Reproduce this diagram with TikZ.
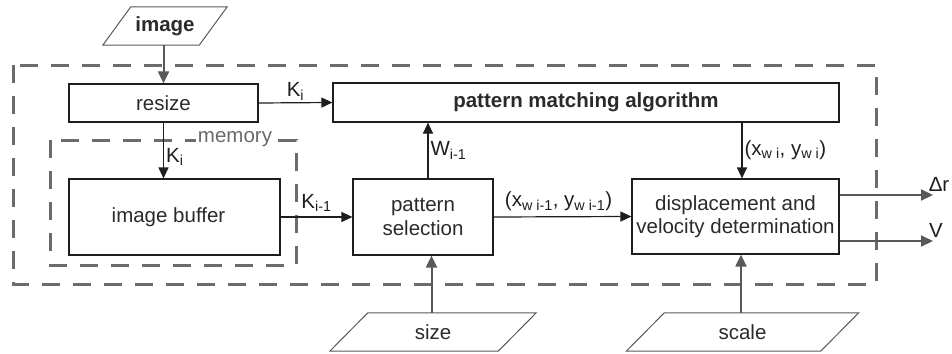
\documentclass[tikz,border=0pt]{standalone}
\usepackage{fontspec}
\setmainfont{Liberation Sans}
\usetikzlibrary{arrows.meta}
\definecolor{boxline}{HTML}{1E1E1E}
\definecolor{txt}{HTML}{2A2A2A}
\definecolor{grayline}{HTML}{595959}
\definecolor{dashgray}{HTML}{6B6B6B}
\begin{document}
\begin{tikzpicture}[x=1pt,y=-1pt,
  font=\fontsize{20.5}{23.5}\selectfont,
  box/.style={draw=boxline, line width=1.2pt, text=txt, align=center, inner sep=0pt},
  paratext/.style={draw=none, text=txt, inner sep=0pt, minimum height=38pt},
  para/.style={draw=grayline, line width=1pt},
  group/.style={draw=dashgray, line width=3pt, dash pattern=on 18pt off 13pt},
  arr/.style={draw=boxline, line width=1.2pt, -{Triangle[length=11pt,width=10pt]}},
  garr/.style={draw=grayline, line width=2pt, -{Triangle[length=12pt,width=11pt]}},
  lbl/.style={text=boxline, inner sep=2pt}]
\useasboundingbox (0,0) rectangle (952,353);

% dashed groupings
\draw[group] (13,65) rectangle (876,284);
\draw[group] (50,140) rectangle (296,265);
\node[text=dashgray, fill=white, inner sep=2pt] (memlabel) at (235,139) {memory};

% processing blocks
\node[box, minimum width=189pt, minimum height=38pt] (resize) at (163.5,103) {resize};
\node[box, minimum width=506pt, minimum height=39pt] (pm) at (586,102.5) {\textbf{pattern matching algorithm}};
\node[box, minimum width=211pt, minimum height=76pt] (buffer) at (174.5,217) {image buffer\hspace{12pt}};
\node[box, minimum width=140pt, minimum height=76pt] (sel) at (423,217) {pattern\\selection};
\node[box, minimum width=207pt, minimum height=75pt] (disp) at (735.5,216.5) {displacement and\\velocity determination};

% inputs (parallelograms)
\node[paratext, minimum width=96pt] (image) at (165,26) {\textbf{image}};
\draw[para] ([xshift=-14pt]image.south west) -- ([xshift=14pt]image.north west)
  -- ([xshift=14pt]image.north east) -- ([xshift=-14pt]image.south east) -- cycle;
\node[paratext, minimum width=168pt] (size) at (433,332) {size};
\draw[para] ([xshift=-19pt]size.south west) -- ([xshift=19pt]size.north west)
  -- ([xshift=19pt]size.north east) -- ([xshift=-19pt]size.south east) -- cycle;
\node[paratext, minimum width=194pt] (scale) at (742.5,332) {scale};
\draw[para] ([xshift=-19pt]scale.south west) -- ([xshift=19pt]scale.north west)
  -- ([xshift=19pt]scale.north east) -- ([xshift=-19pt]scale.south east) -- cycle;

% connectors
\draw[garr] (resize.north |- image.south) -- (resize.north);
\draw[arr] (resize.east) -- (pm.west)
  node[lbl, midway, above] {K\textsubscript{i}};
\draw[arr] (resize.south) -- (resize.south |- buffer.north)
  node[lbl, pos=0.62, right] {K\textsubscript{i}};
\draw[arr] (buffer.east) -- (sel.west)
  node[lbl, midway, above, yshift=3pt] {K\textsubscript{i-1}};
\draw[arr] ([xshift=5pt]sel.north) -- ([xshift=5pt]sel.north |- pm.south)
  node[lbl, midway, right] {W\textsubscript{i-1}};
\draw[arr] (sel.east) -- (disp.west)
  node[lbl, midway, above, xshift=-4pt, yshift=3pt] {(x\textsubscript{w i-1}, y\textsubscript{w i-1})};
\coordinate (pmout) at (742,122);
\draw[arr] (pmout) -- (pmout |- disp.north)
  node[lbl, midway, right] {(x\textsubscript{w i}, y\textsubscript{w i})};

\draw[garr] ([xshift=-1.5pt]size.north) -- ([xshift=-1.5pt]size.north |- sel.south);
\draw[garr] ([xshift=-1.5pt]scale.north) -- ([xshift=-1.5pt]scale.north |- disp.south);

\coordinate (drout) at (933,195);
\coordinate (vout) at (933,241);
\draw[garr] (disp.east |- drout) -- (drout)
  node[lbl, above, xshift=6pt, yshift=1pt] {Δr};
\draw[garr] (disp.east |- vout) -- (vout)
  node[lbl, above, xshift=3pt, yshift=1pt] {V};
\end{tikzpicture}
\end{document}
